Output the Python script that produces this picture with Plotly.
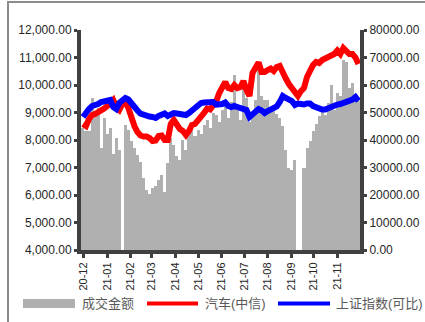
import pandas as pd
import plotly.graph_objects as go

# Sampling dates (every 4 calendar days)
dates = pd.date_range("2020-11-30", periods=92, freq="4D")

# Turnover (成交金额), right axis
turnover = [44400, 43300, 43300, 55300, 49500, 51600, 37100, 48000, 42200, 44400,
            34900, 40700, 36400, 0, 45500, 43600, 39600, 37100, 34500, 32000,
            26200, 21800, 20400, 22500, 23300, 25500, 27300, 21100, 31600, 40700,
            38200, 34200, 32700, 40000, 36400, 42900, 43600, 41500, 43600, 42200,
            45500, 47300, 44400, 49800, 49100, 46500, 50900, 54500, 48000, 53800,
            63600, 51600, 47300, 58900, 55300, 46500, 50200, 54500, 68400, 56000,
            54500, 54500, 50900, 50900, 49500, 48000, 45100, 36400, 29800, 29100,
            32700, 0, 0, 29800, 37100, 39600, 43300, 45800, 48700, 50200,
            49100, 53400, 60000, 50900, 57100, 56000, 69100, 68400, 58900, 60700,
            56400, 54200]

# 汽车(中信) index, left axis
auto_idx = [8581, 8509, 8763, 8909, 8945, 9000, 9072, 9145, 9236, 9345,
            9454, 9200, 9090, 9309, 9418, 9163, 8763, 8509, 8290, 8163,
            8127, 8127, 8072, 7963, 7981, 8145, 8163, 8000, 8000, 8581,
            8727, 8545, 8400, 8327, 8181, 8327, 8545, 8581, 8690, 8872,
            8981, 9145, 9109, 9272, 9400, 9709, 9927, 10108, 9890, 9854,
            9999, 9890, 9927, 10145, 9818, 9600, 10436, 10654, 10818, 10472,
            10472, 10545, 10599, 10508, 10654, 10690, 10508, 10236, 10036, 9890,
            9709, 9600, 9781, 9890, 10290, 10545, 10727, 10836, 10799, 10908,
            10945, 10999, 11072, 11127, 11254, 11127, 11345, 11236, 11127, 11127,
            10999, 10763]

# 上证指数(可比), left axis
sh_idx = [8836, 9018, 9127, 9236, 9254, 9309, 9381, 9400, 9418, 9454,
          9200, 9127, 9345, 9454, 9527, 9472, 9309, 9200, 9072, 8963,
          8909, 8890, 8854, 8836, 8800, 8872, 8909, 8963, 8872, 8945,
          8981, 8963, 8927, 8890, 8909, 8981, 9072, 9163, 9272, 9345,
          9363, 9381, 9345, 9381, 9290, 9272, 9309, 9363, 9236, 9200,
          9236, 9200, 9163, 9145, 9090, 8836, 8945, 9090, 9127, 9072,
          8981, 9054, 9109, 9181, 9218, 9381, 9600, 9527, 9454, 9418,
          9272, 9327, 9309, 9290, 9327, 9327, 9236, 9181, 9163, 9109,
          9109, 9163, 9200, 9236, 9290, 9309, 9345, 9381, 9418, 9472,
          9563, 9418]

month_ticks = pd.date_range("2020-12-01", "2021-11-01", freq="MS")

series_names = ["成交金额", "汽车(中信)", "上证指数(可比)"]
BAR_C = "#b0b0b0"
RED = "#ff0000"
BLUE = "#0000ff"
AXIS_C = "#404040"
TXT_C = "#262626"
FONT = "Liberation Sans, Noto Sans CJK SC, sans-serif"

fig = go.Figure()
fig.add_trace(go.Bar(x=dates, y=turnover, width=4 * 86400000, marker_color=BAR_C,
                     marker_line_width=0, name=series_names[0], yaxis="y",
                     showlegend=False))
fig.add_trace(go.Scatter(x=dates, y=auto_idx, mode="lines", line=dict(color=RED, width=6),
                         name=series_names[1], yaxis="y2", showlegend=False))
fig.add_trace(go.Scatter(x=dates, y=sh_idx, mode="lines", line=dict(color=BLUE, width=6),
                         name=series_names[2], yaxis="y2", showlegend=False))

L, R, T, B = 81, 65, 30, 72
W, H = 425, 322
pw, ph = W - L - R, H - T - B


def px(x):
    return (x - L) / pw


def py(y):
    return (H - B - y) / ph


shapes = [
    # outer frame
    dict(type="rect", xref="paper", yref="paper", x0=px(8), x1=px(440), y0=py(340), y1=py(2),
         line=dict(color="#8c8c8c", width=2), fillcolor="rgba(0,0,0,0)", layer="below"),
    # legend keys
    dict(type="rect", xref="paper", yref="paper", x0=px(23), x1=px(75), y0=py(308), y1=py(299),
         line=dict(width=0), fillcolor=BAR_C),
    dict(type="line", xref="paper", yref="paper", x0=px(147), x1=px(198), y0=py(303.5), y1=py(303.5),
         line=dict(color=RED, width=4)),
    dict(type="line", xref="paper", yref="paper", x0=px(278), x1=px(330), y0=py(303.5), y1=py(303.5),
         line=dict(color=BLUE, width=4)),
]

annotations = []
for name, xpos in zip(series_names, [80, 203, 334]):
    annotations.append(dict(text=name, xref="paper", yref="paper", x=px(xpos), y=py(303.5),
                            xanchor="left", yanchor="middle", showarrow=False,
                            font=dict(size=13, color="#595959", family=FONT)))

fig.update_layout(
    width=W, height=H,
    margin=dict(l=L, r=R, t=T, b=B, autoexpand=False),
    paper_bgcolor="white", plot_bgcolor="white",
    font=dict(family=FONT, color=TXT_C, size=12),
    bargap=0,
    shapes=shapes,
    annotations=annotations,
    xaxis=dict(type="date", range=["2020-11-27 10:00", "2021-12-01"],
               tickvals=list(month_ticks), tickformat="%y-%m", tickangle=-90,
               tickfont=dict(size=11, color=TXT_C),
               showgrid=False, zeroline=False, showline=True, linewidth=4, linecolor=AXIS_C,
               ticks="outside", ticklen=4, tickwidth=3, tickcolor=AXIS_C),
    yaxis=dict(side="right", range=[0, 80000], dtick=10000, tickformat=".2f",
               showgrid=False, zeroline=False, showline=True, linewidth=4, linecolor=AXIS_C,
               ticks="outside", ticklen=3, tickwidth=3, tickcolor=AXIS_C,
               tickfont=dict(size=12, color=TXT_C)),
    yaxis2=dict(side="left", overlaying="y", range=[4000, 12000], dtick=1000, tickformat=",.2f",
                showgrid=False, zeroline=False, showline=True, linewidth=4, linecolor=AXIS_C,
                ticks="outside", ticklen=3, tickwidth=3, tickcolor=AXIS_C,
                tickfont=dict(size=12, color=TXT_C)),
)

fig.write_html("out.html")
